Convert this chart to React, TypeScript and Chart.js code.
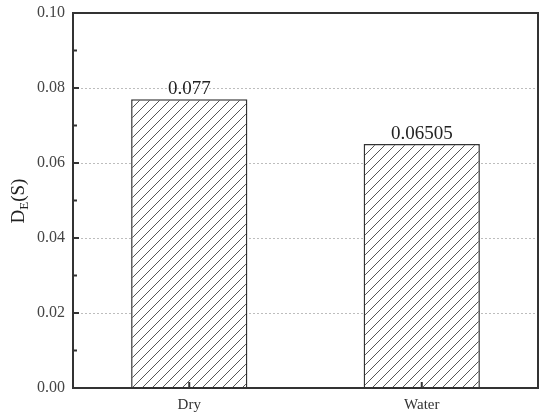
import React, { useEffect, useRef } from 'react';
import { Chart, registerables } from 'chart.js';

Chart.register(...registerables);

const categories = ['Dry', 'Water'];
const values = [0.077, 0.06505];
const valueLabels = ['0.077', '0.06505'];
const majorTicks = [0, 0.02, 0.04, 0.06, 0.08, 0.1];
const minorTicks = [0.01, 0.03, 0.05, 0.07, 0.09];

const SERIF = '"Liberation Serif", "Times New Roman", "DejaVu Serif", serif';

function makeHatch(): CanvasPattern | string {
  const s = 10;
  const c = document.createElement('canvas');
  c.width = s;
  c.height = s;
  const g = c.getContext('2d');
  if (!g) return '#fff';
  g.fillStyle = '#ffffff';
  g.fillRect(0, 0, s, s);
  g.strokeStyle = '#555555';
  g.lineWidth = 1;
  g.beginPath();
  g.moveTo(-1, s + 1);
  g.lineTo(s + 1, -1);
  g.moveTo(-1, 1);
  g.lineTo(1, -1);
  g.moveTo(s - 1, s + 1);
  g.lineTo(s + 1, s - 1);
  g.stroke();
  return g.createPattern(c, 'repeat') || '#fff';
}

const decorPlugin = {
  id: 'decor',
  beforeDatasetsDraw(chart: any) {
    const { ctx, chartArea, scales } = chart;
    const { left, right } = chartArea;
    const y = scales.y;
    ctx.save();
    ctx.strokeStyle = '#bdbdbd';
    ctx.lineWidth = 1;
    ctx.setLineDash([2, 2]);
    majorTicks.forEach((v) => {
      if (v === 0 || v === 0.1) return;
      const py = Math.round(y.getPixelForValue(v)) + 0.5;
      ctx.beginPath();
      ctx.moveTo(left, py);
      ctx.lineTo(right, py);
      ctx.stroke();
    });
    ctx.restore();
  },
  afterDatasetsDraw(chart: any) {
    const { ctx, chartArea, scales } = chart;
    const { left, right, top, bottom } = chartArea;
    const x = scales.x;
    const y = scales.y;
    ctx.save();
    // value labels
    const meta = chart.getDatasetMeta(0);
    ctx.font = '19px ' + SERIF;
    ctx.fillStyle = '#222';
    ctx.textAlign = 'center';
    ctx.textBaseline = 'bottom';
    meta.data.forEach((bar: any, i: number) => {
      ctx.fillText(valueLabels[i], bar.x, bar.y - 1);
    });
    // frame
    ctx.strokeStyle = '#333';
    ctx.lineWidth = 2;
    ctx.strokeRect(left, top, right - left, bottom - top);
    // y ticks (inward)
    majorTicks.forEach((v) => {
      const py = y.getPixelForValue(v);
      ctx.beginPath();
      ctx.moveTo(left, py);
      ctx.lineTo(left + 6, py);
      ctx.stroke();
    });
    minorTicks.forEach((v) => {
      const py = y.getPixelForValue(v);
      ctx.beginPath();
      ctx.moveTo(left, py);
      ctx.lineTo(left + 4, py);
      ctx.stroke();
    });
    // x ticks (inward)
    categories.forEach((_, i) => {
      const px = x.getPixelForValue(i);
      ctx.beginPath();
      ctx.moveTo(px, bottom);
      ctx.lineTo(px, bottom - 6);
      ctx.stroke();
    });
    // y title D_E(S)
    ctx.translate(18, 201);
    ctx.rotate(-Math.PI / 2);
    ctx.fillStyle = '#222';
    ctx.textAlign = 'left';
    ctx.textBaseline = 'alphabetic';
    const big = '19px ' + SERIF;
    const small = '13px ' + SERIF;
    ctx.font = big;
    const wD = ctx.measureText('D').width;
    const wS = ctx.measureText('(S)').width;
    ctx.font = small;
    const wE = ctx.measureText('E').width;
    const total = wD + wE + wS;
    let cx = -total / 2;
    ctx.font = big;
    ctx.fillText('D', cx, 6);
    cx += wD;
    ctx.font = small;
    ctx.fillText('E', cx, 10);
    cx += wE;
    ctx.font = big;
    ctx.fillText('(S)', cx, 6);
    ctx.restore();
  },
};

export default function App() {
  const ref = useRef<HTMLCanvasElement | null>(null);
  useEffect(() => {
    if (!ref.current) return;
    const hatch = makeHatch();
    const chart = new Chart(ref.current, {
      type: 'bar',
      data: {
        labels: categories,
        datasets: [
          {
            data: values,
            backgroundColor: hatch as any,
            borderColor: '#333',
            borderWidth: 1.5,
            barPercentage: 0.5,
            categoryPercentage: 1.0,
          },
        ],
      },
      options: {
        responsive: false,
        animation: false,
        devicePixelRatio: 1,
        layout: { padding: { left: 0, right: 12, top: 13, bottom: 0 } },
        plugins: { legend: { display: false }, tooltip: { enabled: false } },
        scales: {
          x: {
            grid: { display: false, drawTicks: false },
            border: { display: false },
            ticks: {
              padding: 8,
              color: '#333',
              font: { family: SERIF, size: 15 },
            },
            afterFit: (s: any) => {
              s.height = 30;
              s.paddingLeft = 0;
              s.paddingRight = 0;
            },
          },
          y: {
            min: 0,
            max: 0.1,
            grid: { display: false, drawTicks: false },
            border: { display: false },
            ticks: {
              stepSize: 0.02,
              padding: 8,
              color: '#444',
              font: { family: SERIF, size: 16 },
              callback: (v: any) => Number(v).toFixed(2),
            },
            afterFit: (s: any) => {
              s.width = 73;
              s.paddingTop = 0;
              s.paddingBottom = 0;
            },
          },
        },
      },
      plugins: [decorPlugin],
    });
    return () => chart.destroy();
  }, []);
  return (
    <div style={{ position: 'fixed', left: 0, top: 0, width: 550, height: 418, background: '#fff' }}>
      <canvas ref={ref} width={550} height={418} />
    </div>
  );
}
